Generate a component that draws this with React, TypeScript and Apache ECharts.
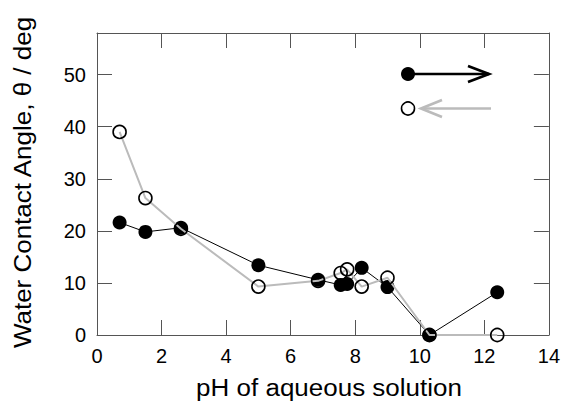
import React, { useEffect, useRef } from "react";
import * as echarts from "echarts";

const filledX = [0.7, 1.5, 2.6, 5.0, 6.85, 7.55, 7.75, 8.2, 9.0, 10.3, 12.4];
const filledY = [21.6, 19.8, 20.6, 13.4, 10.6, 9.6, 9.8, 12.9, 9.2, 0, 8.2];
const openX = [0.7, 1.5, 2.6, 5.0, 6.85, 7.55, 7.75, 8.2, 9.0, 10.3, 12.4];
const openY = [39.0, 26.3, 20.4, 9.3, 10.4, 11.9, 12.6, 9.3, 11.0, 0, 0];
const xTitle = "pH of aqueous solution";
const yTitle = "Water Contact Angle, \u03b8 / deg";

const FONT = "Liberation Sans, Arial, sans-serif";
const FRAME = "#555555";

export default function App() {
  const ref = useRef<HTMLDivElement>(null);
  useEffect(() => {
    if (!ref.current) return;
    const chart = echarts.init(ref.current, undefined, { renderer: "svg" });
    const axisLine = { show: true, onZero: false, lineStyle: { color: FRAME, width: 1 } };
    const tick = { show: true, inside: true, length: 15, lineStyle: { color: FRAME, width: 1 } };
    chart.setOption({
      animation: false,
      backgroundColor: "#ffffff",
      grid: { left: 97, top: 33, width: 453, height: 302, containLabel: false },
      xAxis: [
        {
          type: "value", min: 0, max: 14, interval: 2, position: "bottom",
          axisLine, axisTick: tick, splitLine: { show: false },
          axisLabel: { color: "#000", fontSize: 20, fontFamily: FONT, margin: 11 },
        },
        {
          type: "value", min: 0, max: 14, interval: 2, position: "top",
          axisLine, axisTick: tick, splitLine: { show: false }, axisLabel: { show: false },
        },
      ],
      yAxis: [
        {
          type: "value", min: 0, max: 58, interval: 10, position: "left",
          axisLine, axisTick: tick, splitLine: { show: false },
          axisLabel: { color: "#000", fontSize: 20, fontFamily: FONT, margin: 11, showMaxLabel: false },
        },
        {
          type: "value", min: 0, max: 58, interval: 10, position: "right",
          axisLine, axisTick: tick, splitLine: { show: false }, axisLabel: { show: false },
        },
      ],
      series: [
        {
          type: "line",
          data: filledX.map((x, i) => [x, filledY[i]]),
          symbol: "circle", symbolSize: 14,
          lineStyle: { color: "#000", width: 1 },
          itemStyle: { color: "#000", borderColor: "#000", borderWidth: 0 },
          z: 2,
        },
        {
          type: "line",
          data: openX.map((x, i) => [x, openY[i]]),
          symbol: "circle", symbolSize: 13,
          lineStyle: { color: "#bbbbbb", width: 2 },
          itemStyle: { color: "rgba(255,255,255,0)", borderColor: "#000", borderWidth: 1.6 },
          z: 3,
        },
      ],
      graphic: [
        {
          type: "text", x: 329, y: 388, scaleX: 1.13,
          style: { text: xTitle, fill: "#000", font: `23px ${FONT}`, textAlign: "center", textVerticalAlign: "middle" },
        },
        {
          type: "text", x: 23, y: 182.5, rotation: Math.PI / 2, scaleX: 1.13,
          style: { text: yTitle, fill: "#000", font: `23px ${FONT}`, textAlign: "center", textVerticalAlign: "middle" },
        },
        { type: "circle", shape: { cx: 408, cy: 74, r: 7 }, style: { fill: "#000" } },
        { type: "line", shape: { x1: 414, y1: 74, x2: 489, y2: 74 }, style: { stroke: "#000", lineWidth: 2.7 } },
        { type: "polyline", shape: { points: [[468, 66], [489, 74], [468, 82]] }, style: { stroke: "#000", lineWidth: 2.7, fill: null } },
        { type: "circle", shape: { cx: 408, cy: 108.5, r: 6.5 }, style: { fill: "#fff", stroke: "#000", lineWidth: 1.6 } },
        { type: "line", shape: { x1: 421, y1: 108.5, x2: 491, y2: 108.5 }, style: { stroke: "#bbbbbb", lineWidth: 2.7 } },
        { type: "polyline", shape: { points: [[442, 100], [421, 108.5], [442, 117]] }, style: { stroke: "#bbbbbb", lineWidth: 2.7, fill: null } },
      ],
    });
    return () => chart.dispose();
  }, []);
  return <div ref={ref} style={{ width: 563, height: 403, position: "absolute", left: 0, top: 0 }} />;
}
